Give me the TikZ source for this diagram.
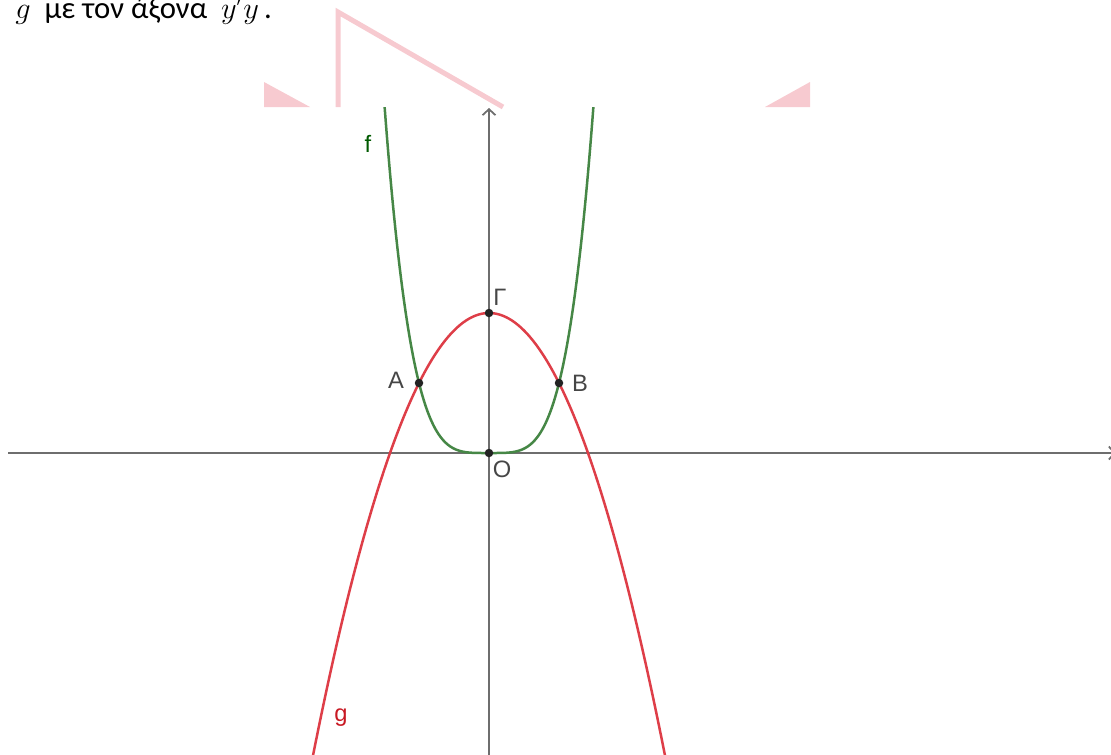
\documentclass[tikz,border=0pt]{standalone}
\usepackage{fontspec}
\setmainfont{Carlito}
\newfontfamily\labfont{Liberation Sans}
\usetikzlibrary{arrows.meta}
\definecolor{wmpink}{RGB}{247,202,208}
\definecolor{axisgray}{RGB}{110,110,110}
\definecolor{fgreen}{RGB}{70,135,70}
\definecolor{flab}{RGB}{0,90,0}
\definecolor{gred}{RGB}{222,62,72}
\definecolor{glab}{RGB}{200,25,35}
\definecolor{ptcol}{RGB}{35,35,35}
\definecolor{labgray}{RGB}{70,70,70}
\tikzset{
  wmfill/.style={fill=wmpink},
  wmline/.style={draw=wmpink,line width=0.1cm,line join=miter},
  axisline/.style={draw=axisgray,line width=0.035cm},
  fcurve/.style={draw=fgreen,line width=0.05cm},
  gcurve/.style={draw=gred,line width=0.05cm},
  pt/.style={circle,fill=ptcol,inner sep=0pt,minimum size=0.17cm},
  lblfont/.style={font=\labfont\fontsize{13.5}{15}\selectfont,inner sep=0pt},
  ptlabel/.style={lblfont,text=labgray},
}
\begin{document}
\begin{tikzpicture}[x=0.02cm,y=-0.02cm]
\useasboundingbox (0,0) rectangle (1111,754);
\clip (0,0) rectangle (1111,754);
% caption text (cut at top, as in the reference)
\node[anchor=base west,inner sep=0pt,font=\fontsize{17.5}{20}\selectfont] (cap) at (15,18)
  {$g$\ \ με τον άξονα\ \ $y'y$\,.};
% watermark
\fill[wmfill] (264,82) -- (264,107) -- (310,107) -- cycle;
\fill[wmfill] (810,82) -- (810,107) -- (765,107) -- cycle;
\draw[wmline] (338,107) -- (338,12) -- (503,107);
% plot region
\begin{scope}
\clip (0,107) rectangle (1111,754);
\coordinate (xl) at (8,453);
\coordinate (xr) at (1116,453);
\coordinate (yb) at (489,760);
\coordinate (yt) at (489,108);
\draw[axisline,-{Straight Barb[length=0.12cm,width=0.26cm]}] (xl) -- (xr);
\draw[axisline,-{Straight Barb[length=0.12cm,width=0.26cm]}] (yb) -- (yt);
\draw[gcurve] plot[domain=-2.6:2.6,samples=200,smooth] ({489+70*\x},{453-70*(2-\x*\x)});
\draw[fcurve] plot[domain=-1.52:1.52,samples=300,smooth] ({489+70*\x},{453-70*(\x*\x*\x*\x)});
\end{scope}
% points
\node[pt] (A) at (419,383) {};
\node[pt] (B) at (559,383) {};
\node[pt] (G) at (489,313) {};
\node[pt] (O) at (489,453) {};
\node[ptlabel] (Alab) at (396,380) {A};
\node[ptlabel] (Blab) at (580,383) {B};
\node[ptlabel] (Glab) at (500,297) {Γ};
\node[ptlabel] (Olab) at (502,469) {O};
\node[lblfont,text=flab] (flabel) at (368,144) {f};
\node[lblfont,text=glab] (glabel) at (341,718) {g};
\end{tikzpicture}
\end{document}
